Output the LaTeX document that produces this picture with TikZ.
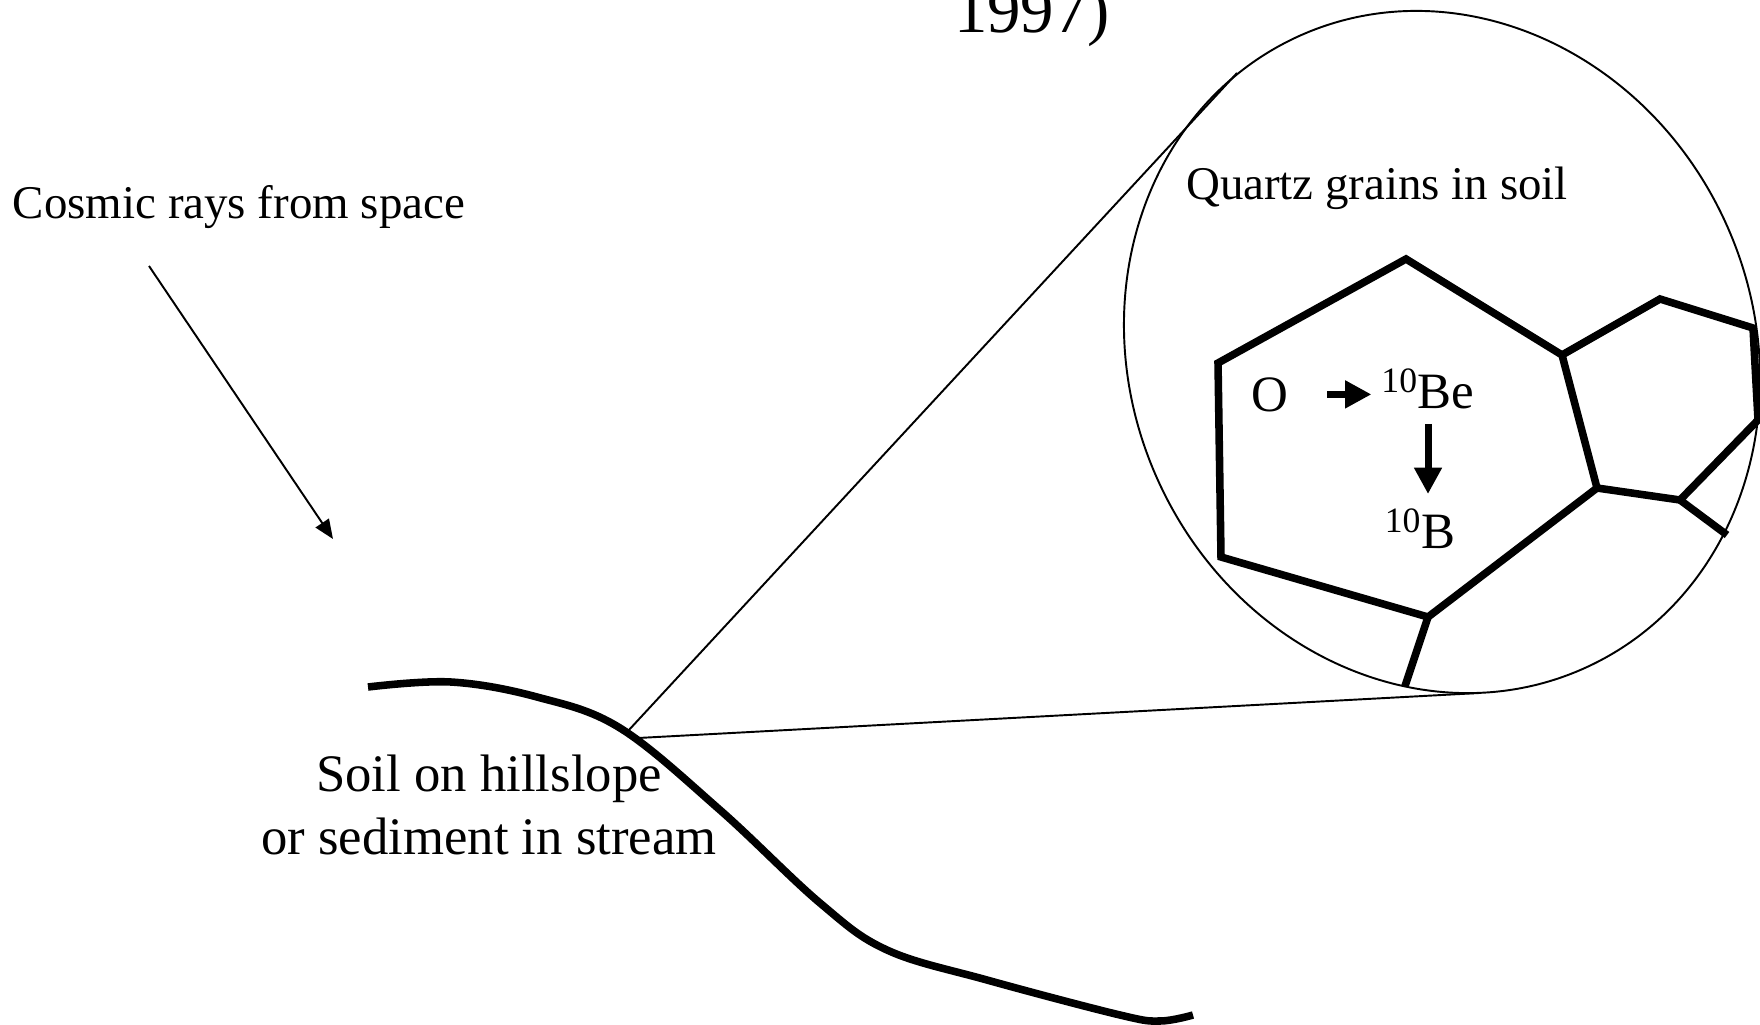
\documentclass[tikz,border=0pt]{standalone}
\usepackage{fontspec}
\setmainfont{Liberation Serif}
\usetikzlibrary{arrows.meta}

\begin{document}
\begin{tikzpicture}[
    x=0.02cm, y=-0.02cm,
    txt/.style={inner sep=0pt,anchor=base,font=\fontsize{26.7}{32}\selectfont},
    iso/.style={inner sep=0pt,anchor=base,font=\fontsize{29}{35}\selectfont},
    grain/.style={line width=4.3pt,line join=miter},
    ground/.style={line width=4.3pt},
    zoomline/.style={line width=1.1pt},
    ray/.style={-{Triangle[length=11pt,width=9pt]},line width=1.1pt},
    react/.style={-{Triangle[length=15pt,width=15pt]},line width=4pt}
]
\useasboundingbox (0,0) rectangle (1760,1024);
\clip (0,0) rectangle (1760,1024);

% title, cut off at the top
\node[inner sep=0pt,anchor=base,font=\fontsize{38}{45}\selectfont] (title) at (1032,33) {1997)};

% cosmic rays
\node[txt] (cosmic) at (239,218) {Cosmic rays from space};
\coordinate (rayA) at (149,266);
\coordinate (rayB) at (333,539);
\draw[ray] (rayA) -- (rayB);

% hillslope
\draw[ground] plot[smooth,tension=0.6] coordinates {(368,687) (451,682) (537,697) (620,728) (720,810) (820,903) (887,950) (987,980) (1120,1015) (1160,1021) (1193,1015)};
\node[inner sep=0pt,align=center,font=\fontsize{30}{36}\selectfont] (soil) at (489,805) {Soil on hillslope\\or sediment in stream};

% zoom lines
\coordinate (spotA) at (628,731);
\coordinate (spotB) at (638,738);
\coordinate (tanA) at (1237,73);
\coordinate (tanB) at (1479,693);
\draw[zoomline] (spotA) -- (tanA);
\draw[zoomline] (spotB) -- (tanB);

% magnified view
\draw[zoomline,rotate around={-65.5:(1442,352)}] (1442,352) ellipse [x radius=346.8,y radius=311.7];
\node[txt] (quartz) at (1377,199) {Quartz grains in soil};

% grains
\draw[grain] (1218,363) -- (1406,259) -- (1562,355) -- (1597,488) -- (1428,617) -- (1221,557) -- cycle;
\draw[grain] (1562,355) -- (1660,299) -- (1753,328) -- (1758,420) -- (1680,500) -- (1597,488);
\draw[grain] (1680,500) -- (1727,535);
\draw[grain] (1428,617) -- (1405,686);

% reaction
\node[iso] (ox) at (1270,411) {O};
\node[iso] (be) at (1428,408) {\textsuperscript{10}Be};
\node[iso] (bo) at (1420,548) {\textsuperscript{10}B};
\draw[react,shorten <=22pt,shorten >=5.5pt] (ox.east) -- (ox.east -| be.west);
\draw[react,shorten <=8.5pt,shorten >=8pt] (be.south) -- (be.south |- bo.north);
\end{tikzpicture}
\end{document}
